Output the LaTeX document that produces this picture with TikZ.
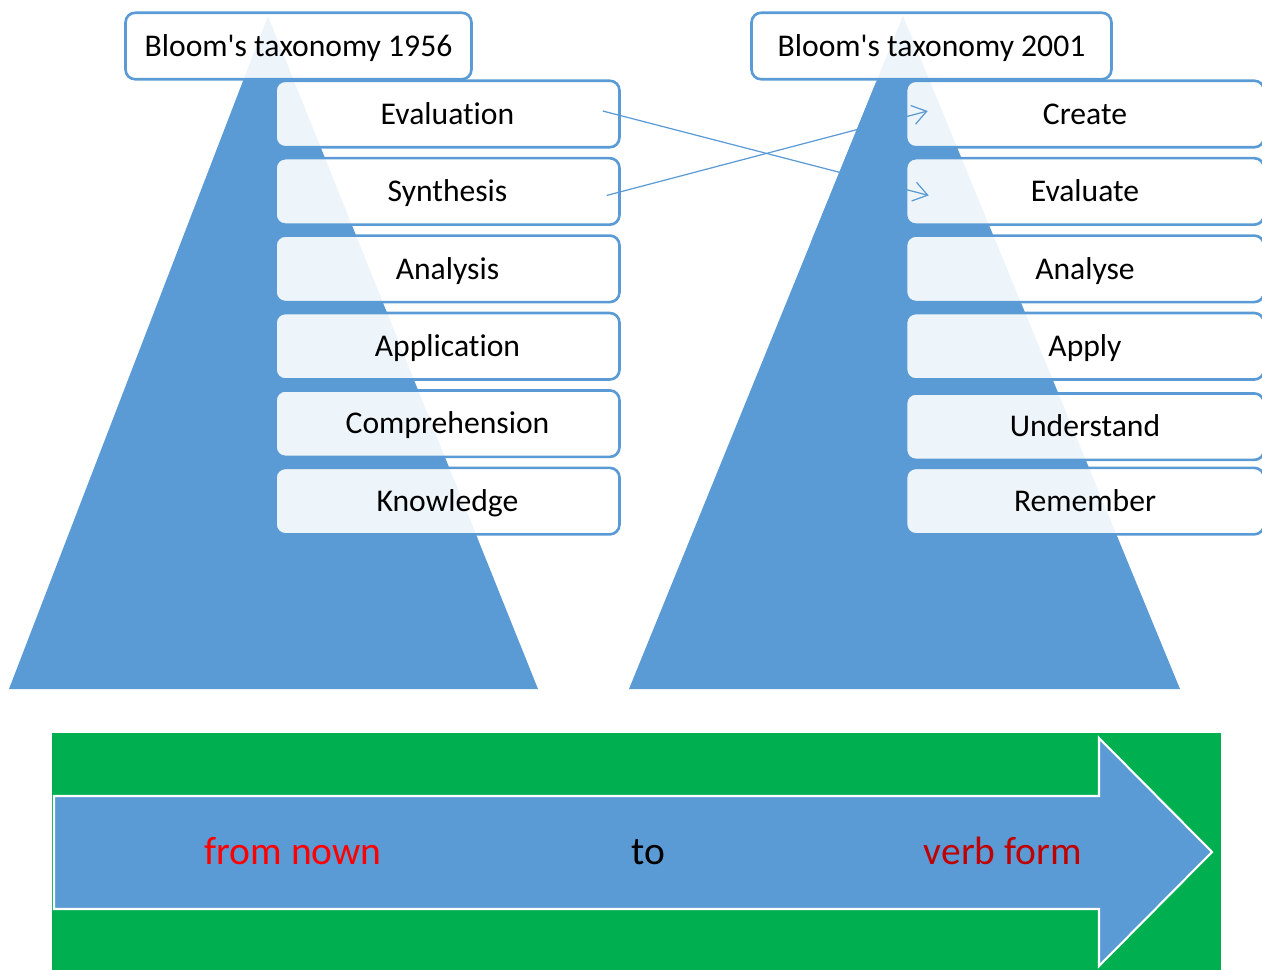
\documentclass[tikz,border=0pt]{standalone}
\usepackage{fontspec}
\setmainfont{Carlito}[Ligatures=NoCommon, RawFeature={-liga}]
\usetikzlibrary{positioning, arrows.meta}
\definecolor{bloomblue}{HTML}{5B9BD5}
\definecolor{bandgreen}{HTML}{00B050}
\definecolor{verbred}{HTML}{C00000}

\begin{document}
\begin{tikzpicture}[
        x=0.02cm, y=-0.02cm,
        node distance=0.166cm,
        level/.style={draw=bloomblue, line width=1.5pt, rounded corners=5.5pt, fill=white, fill opacity=0.9, text opacity=1, minimum height=1.33cm, inner sep=0pt, text height=11.6pt, text depth=0pt, font=\fontsize{18}{22}\selectfont},
        oldlevel/.style={level, minimum width=6.88cm},
        newlevel/.style={level, minimum width=7.16cm},
        arrow/.style={-{Straight Barb[length=8pt, width=11pt]}, bloomblue, line width=0.7pt},
        bandtext/.style={inner sep=0pt, text height=14.5pt, text depth=0pt, font=\fontsize{22.5}{27}\selectfont}
    ]
    \useasboundingbox (0,0) rectangle (1262,970);

    % Pyramids
    \fill[bloomblue] (268,16) -- (538,689) -- (9,689) -- cycle;
    \fill[bloomblue] (903,16) -- (1180,689) -- (629,689) -- cycle;

    % Bloom's taxonomy 1956
    \node[level, minimum width=6.92cm] (Old) at (298.5,46) {Bloom\textquotesingle s taxonomy 1956};
    \node[oldlevel] (Evaluation) at (447.5,114) {Evaluation};
    \node[oldlevel, below=of Evaluation] (Synthesis) {Synthesis};
    \node[oldlevel, below=of Synthesis] (Analysis) {Analysis};
    \node[oldlevel, below=of Analysis] (Application) {Application};
    \node[oldlevel, below=of Application] (Comprehension) {Comprehension};
    \node[oldlevel, below=of Comprehension] (Knowledge) {Knowledge};

    % Bloom's taxonomy 2001
    \node[level, minimum width=7.2cm] (New) at (931.5,46) {Bloom\textquotesingle s taxonomy 2001};
    \node[newlevel] (Create) at (1085,114) {Create};
    \node[newlevel, below=of Create] (Evaluate) {Evaluate};
    \node[newlevel, below=of Evaluate] (Analyse) {Analyse};
    \node[newlevel, below=of Analyse] (Apply) {Apply};
    \node[newlevel, below=of Apply, yshift=-0.06cm] (Understand) {Understand};
    \node[newlevel, below=of Understand, yshift=0.06cm] (Remember) {Remember};

    % Mapping
    \draw[arrow] ([xshift=-0.36cm, yshift=0.06cm]Evaluation.east) -- ([xshift=0.48cm, yshift=-0.08cm]Evaluate.west);
    \draw[arrow] ([xshift=-0.28cm, yshift=-0.08cm]Synthesis.east) -- ([xshift=0.46cm, yshift=0.06cm]Create.west);
    \begin{scope}
        \clip (629,82) rectangle (904,240);
        \fill[bloomblue] (903,16) -- (1180,689) -- (629,689) -- cycle;
    \end{scope}

    % Band
    \fill[bandgreen] (52,733) rectangle (1221,975);
    \draw[white, line width=1.2pt, fill=bloomblue] (54,796) -- (1099,796) -- (1099,738) -- (1212,852) -- (1099,966) -- (1099,909) -- (54,909) -- cycle;
    \node[bandtext, red] (From) at (293,852) {from nown};
    \node[bandtext] (To) at (648,852) {to};
    \node[bandtext, verbred] (Verb) at (1003,852) {verb form};

\end{tikzpicture}
\end{document}
